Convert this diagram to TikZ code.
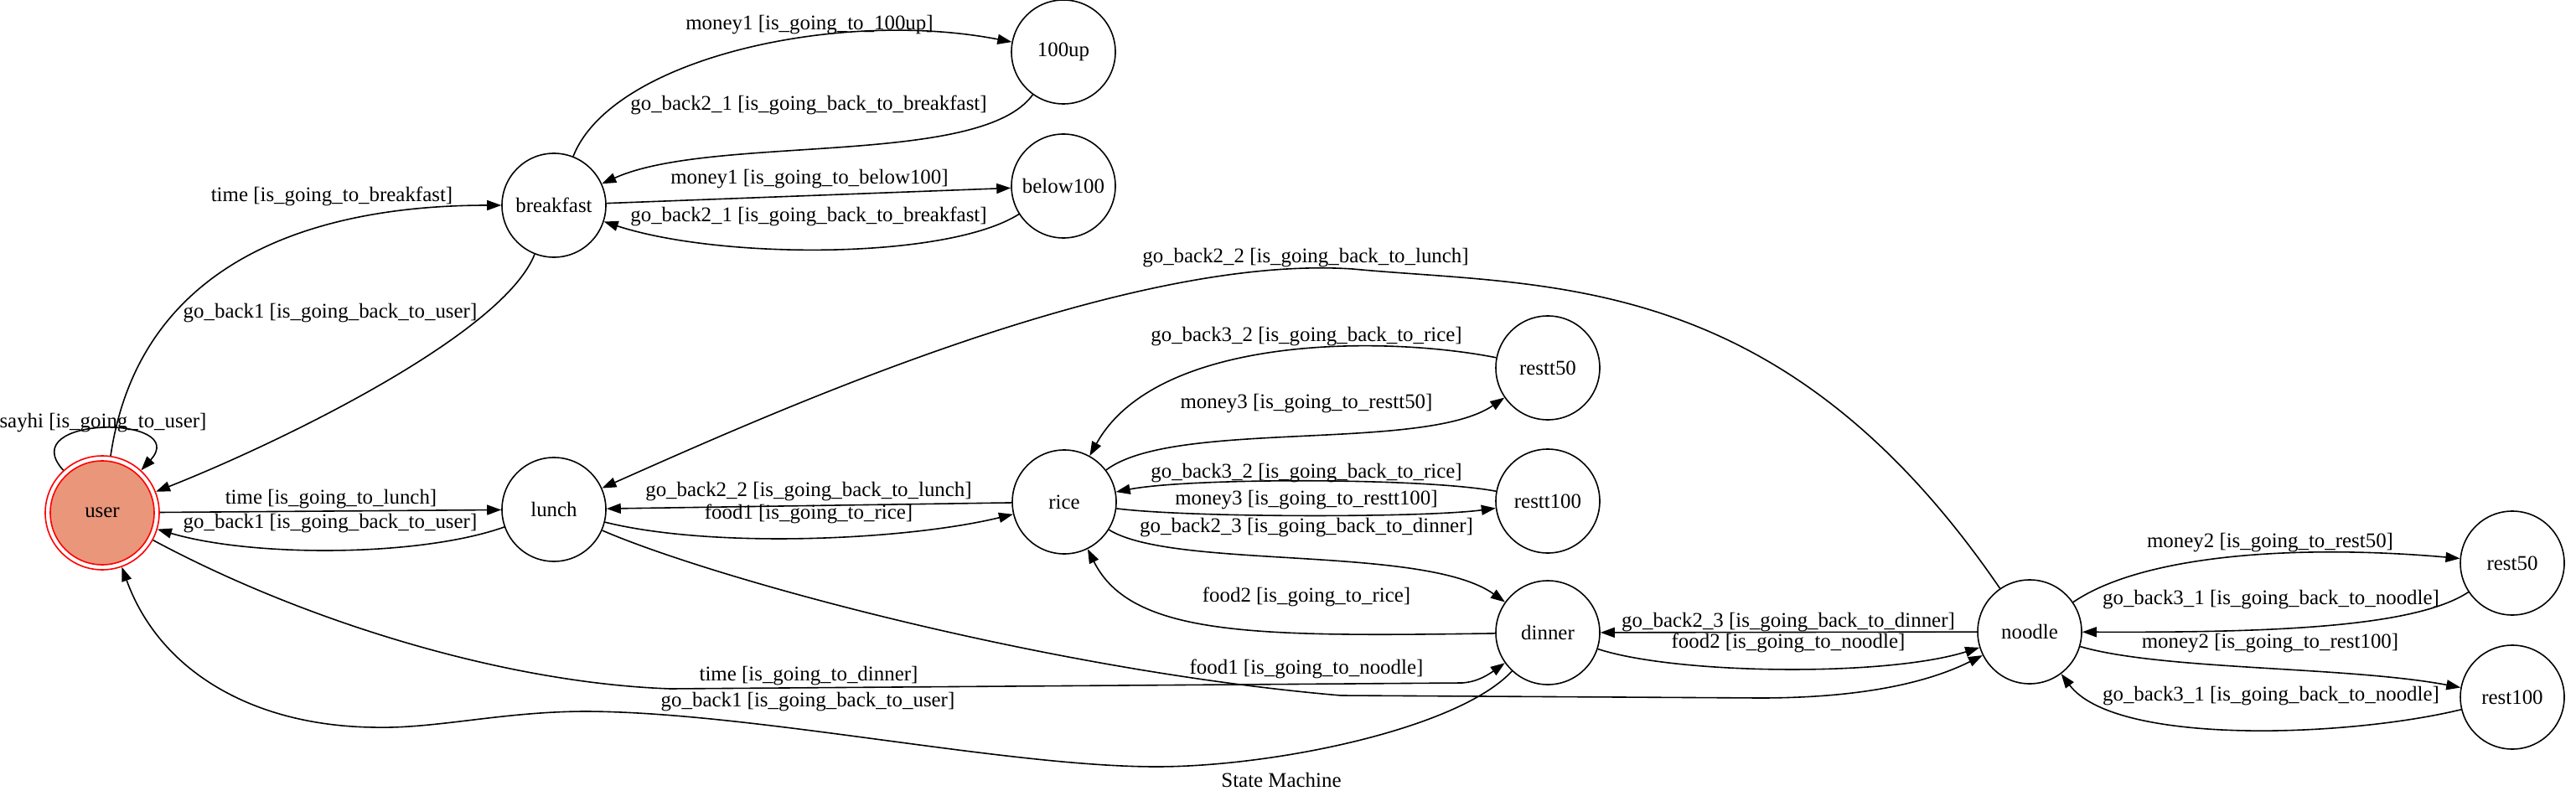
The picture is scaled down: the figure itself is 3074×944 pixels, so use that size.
\documentclass[tikz,border=0pt]{standalone}
\usepackage{fontspec}
\setmainfont{Liberation Serif}
\usetikzlibrary{arrows.meta}
\definecolor{usrfill}{RGB}{233,150,122}
\begin{document}
\begin{tikzpicture}[x=1pt,y=-1pt,
  st/.style={circle,draw=black,line width=1.6pt,minimum size=124pt,inner sep=0pt,font=\fontsize{24.9pt}{30pt}\selectfont},
  lbl/.style={inner sep=0pt,font=\fontsize{24.9pt}{30pt}\selectfont},
  tr/.style={line width=1.6pt,-{Triangle[length=17pt,width=12pt]}},
]
\useasboundingbox (0,0) rectangle (3074,944);
% nodes
\node[st,draw=red,minimum size=136pt] (user) at (122,612) {};
\node[st,draw=red,fill=usrfill] (userin) at (122,612) {user};
\node[st] (breakfast) at (661,245) {breakfast};
\node[st] (up100) at (1269,62) {100up};
\node[st] (below100) at (1269,222) {below100};
\node[st] (lunch) at (661,608) {lunch};
\node[st] (rice) at (1270,599) {rice};
\node[st] (restt50) at (1847,439) {restt50};
\node[st] (restt100) at (1847,598) {restt100};
\node[st] (dinner) at (1847,755) {dinner};
\node[st] (noodle) at (2422,754) {noodle};
\node[st] (rest50) at (2998,672) {rest50};
\node[st] (rest100) at (2998,832) {rest100};
% edges
\draw[tr] (user) .. controls (165,320) and (360,245) .. (breakfast);
\draw[tr] (breakfast) .. controls (600,400) and (330,530) .. (user);
\draw[tr] (user) -- (lunch);
\draw[tr] (lunch) .. controls (500,665) and (300,665) .. (user);
\draw[tr] (breakfast) .. controls (730,70) and (1000,10) .. (up100);
\draw[tr] (up100) .. controls (1170,200) and (850,160) .. (breakfast);
\draw[tr] (breakfast) -- (below100);
\draw[tr] (below100) .. controls (1130,310) and (860,310) .. (breakfast);
\draw[tr] (user) .. controls (360,740) and (600,815) .. (800,822) -- (1745,815) .. controls (1760,814) and (1772,808) .. (dinner);
\draw[tr] (dinner) .. controls (1740,870) and (1520,915) .. (1380,915) .. controls (1200,915) and (900,850) .. (700,849) .. controls (600,849) and (520,870) .. (446,868) .. controls (300,866) and (190,800) .. (user);
\draw[tr] (lunch) .. controls (850,655) and (1080,645) .. (rice);
\draw[tr] (rice) -- (lunch);
\draw[tr] (lunch) .. controls (850,690) and (1250,800) .. (1600,830) -- (2100,833) .. controls (2220,833) and (2300,815) .. (noodle);
\draw[tr] (rice) .. controls (1400,500) and (1700,540) .. (restt50);
\draw[tr] (restt50) .. controls (1650,400) and (1380,400) .. (rice);
\draw[tr] (restt100) .. controls (1700,570) and (1420,570) .. (rice);
\draw[tr] (rice) .. controls (1420,618) and (1700,618) .. (restt100);
\draw[tr] (rice) .. controls (1400,680) and (1700,650) .. (dinner);
\draw[tr] (dinner) .. controls (1500,760) and (1350,760) .. (rice);
\draw[tr] (noodle) -- (dinner);
\draw[tr] (dinner) .. controls (2000,805) and (2250,808) .. (noodle);
\draw[tr] (noodle) .. controls (2125,320) and (1848,343) .. (1614,321) .. controls (1343,303) and (927,490) .. (lunch);
\draw[tr] (noodle) .. controls (2560,660) and (2750,650) .. (rest50);
\draw[tr] (rest50) .. controls (2880,750) and (2700,755) .. (noodle);
\draw[tr] (noodle) .. controls (2580,800) and (2800,795) .. (rest100);
\draw[tr] (rest100) .. controls (2800,880) and (2524,890) .. (noodle);
\draw[tr] (user) .. controls (15,495) and (229,495) .. (user);
% labels
\node[lbl] (l1) at (396,234) {time [is\_going\_to\_breakfast]};
\node[lbl] (l2) at (394,374) {go\_back1 [is\_going\_back\_to\_user]};
\node[lbl] (l3) at (123,505) {sayhi [is\_going\_to\_user]};
\node[lbl] (l4) at (395,596) {time [is\_going\_to\_lunch]};
\node[lbl] (l5) at (394,625) {go\_back1 [is\_going\_back\_to\_user]};
\node[lbl] (l6) at (966,30) {money1 [is\_going\_to\_100up]};
\node[lbl] (l7) at (965,125) {go\_back2\_1 [is\_going\_back\_to\_breakfast]};
\node[lbl] (l8) at (966,214) {money1 [is\_going\_to\_below100]};
\node[lbl] (l9) at (965,258) {go\_back2\_1 [is\_going\_back\_to\_breakfast]};
\node[lbl] (l10) at (1558,308) {go\_back2\_2 [is\_going\_back\_to\_lunch]};
\node[lbl] (l11) at (1559,402) {go\_back3\_2 [is\_going\_back\_to\_rice]};
\node[lbl] (l12) at (1559,482) {money3 [is\_going\_to\_restt50]};
\node[lbl] (l13) at (1559,565) {go\_back3\_2 [is\_going\_back\_to\_rice]};
\node[lbl] (l14) at (1559,597) {money3 [is\_going\_to\_restt100]};
\node[lbl] (l15) at (1559,630) {go\_back2\_3 [is\_going\_back\_to\_dinner]};
\node[lbl] (l16) at (1559,712) {food2 [is\_going\_to\_rice]};
\node[lbl] (l17) at (1559,798) {food1 [is\_going\_to\_noodle]};
\node[lbl] (l18) at (965,587) {go\_back2\_2 [is\_going\_back\_to\_lunch]};
\node[lbl] (l19) at (965,613) {food1 [is\_going\_to\_rice]};
\node[lbl] (l20) at (965,807) {time [is\_going\_to\_dinner]};
\node[lbl] (l21) at (964,838) {go\_back1 [is\_going\_back\_to\_user]};
\node[lbl] (l22) at (2134,743) {go\_back2\_3 [is\_going\_back\_to\_dinner]};
\node[lbl] (l23) at (2134,767) {food2 [is\_going\_to\_noodle]};
\node[lbl] (l24) at (2709,648) {money2 [is\_going\_to\_rest50]};
\node[lbl] (l25) at (2710,716) {go\_back3\_1 [is\_going\_back\_to\_noodle]};
\node[lbl] (l26) at (2709,768) {money2 [is\_going\_to\_rest100]};
\node[lbl] (l27) at (2710,831) {go\_back3\_1 [is\_going\_back\_to\_noodle]};
\node[lbl] (title) at (1529,931) {State Machine};
\end{tikzpicture}
\end{document}
